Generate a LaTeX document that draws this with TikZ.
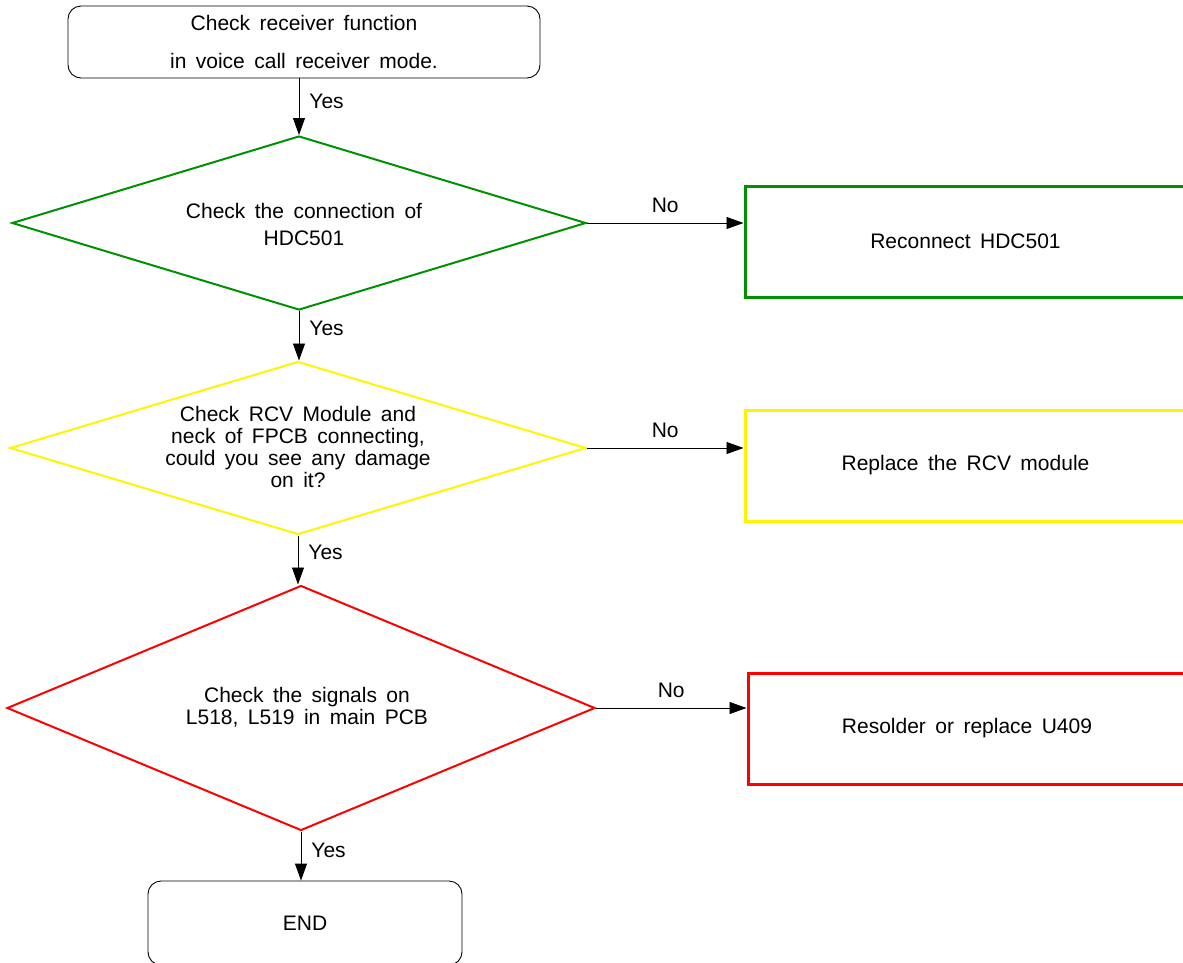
\documentclass[tikz,border=0pt]{standalone}
\usepackage{fontspec}
\setmainfont{Liberation Sans}
\usetikzlibrary{shapes.geometric,arrows.meta}
\definecolor{dgreen}{RGB}{0,145,0}
\definecolor{dyellow}{RGB}{255,245,0}
\definecolor{dred}{RGB}{255,0,0}
\newcommand{\flowfont}{\fontsize{21}{22}\selectfont\spaceskip=0.45em plus 0.1em\relax}
\begin{document}
\begin{tikzpicture}[x=1pt,y=-1pt,
  every node/.style={font=\flowfont},
  rbox/.style={draw, rounded corners=13pt, line width=0.9pt, inner sep=0},
  dia/.style={diamond, draw, line width=2pt, inner sep=0},
  act/.style={draw, line width=3pt, inner sep=0, minimum width=441, minimum height=111},
  arr/.style={-{Triangle[length=17pt,width=12pt]}, line width=0.9pt, black},
  ylbl/.style={inner sep=3pt, right, xshift=7pt},
  nlbl/.style={inner sep=3pt, above, yshift=7pt}
]
\useasboundingbox (0,0) rectangle (1183,962);
\clip (0,0) rectangle (1183,962);

% top start box
\node[rbox, minimum width=472, minimum height=72, align=center] (start) at (304,42)
  {Check receiver function\\[16pt] in voice call receiver mode.};

% diamonds
\node[dia, draw=dgreen, minimum width=574, minimum height=174] (d1) at (299,223) {};
\node[align=center] (t1) at (304,224) {Check the connection of\\[5pt]HDC501};

\node[dia, draw=dyellow, minimum width=576, minimum height=173] (d2) at (298,448) {};
\node[align=center] (t2) at (298,447)
  {Check RCV Module and\\neck of FPCB connecting,\\could you see any damage\\on it?};

\node[dia, draw=dred, minimum width=588, minimum height=245] (d3) at (301,708) {};
\node[align=center] (t3) at (307,707) {Check the signals on\\L518, L519 in main PCB};

% action boxes
\node[act, draw=dgreen] (a1) at (965.5,241.5) {Reconnect HDC501};
\node[act, draw=dyellow] (a2) at (965.5,465.5) {Replace the RCV module};
\node[act, draw=dred, minimum width=438] (a3) at (967,728.5) {\raisebox{-2pt}{Resolder or replace U409}};

% end box
\node[rbox, minimum width=314, minimum height=84] (end) at (305,923) {END};

% connectors
\draw[arr] (d1.north |- start.south) -- (d1.north) node[ylbl, pos=0.4] {Yes};
\draw[arr] (d1.south) -- (d1.south |- d2.north) node[ylbl, pos=0.35] {Yes};
\draw[arr] (d2.south) -- (d2.south |- d3.north) node[ylbl, pos=0.35] {Yes};
\draw[arr] (d3.south) -- (d3.south |- end.north) node[ylbl, pos=0.38] {Yes};

\draw[arr] (d1.east) -- (d1.east -| a1.west) node[nlbl, midway] {No};
\draw[arr] (d2.east) -- (d2.east -| a2.west) node[nlbl, midway] {No};
\draw[arr] (d3.east) -- (d3.east -| a3.west) node[nlbl, midway] {No};
\end{tikzpicture}
\end{document}
